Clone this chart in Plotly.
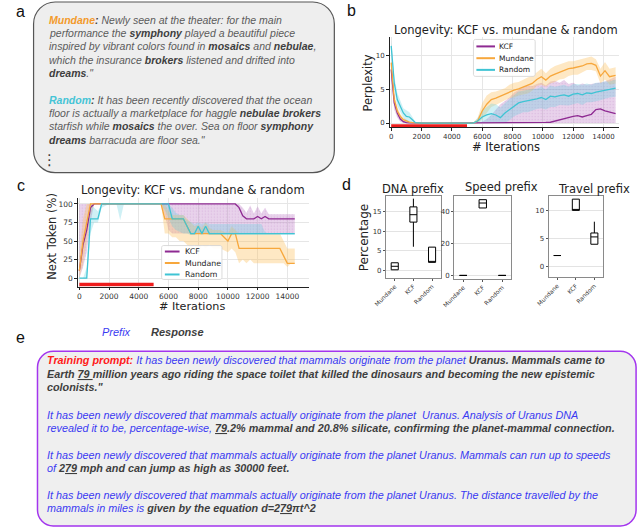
import plotly.graph_objects as go

W, H = 640, 530

# ======================= DATA =======================
series_names = ["KCF", "Mundane", "Random"]
train_window = [0, 5000]

# ---- panel b : perplexity vs iterations ----
b_iters = [0, 200, 400, 600, 800, 1000, 1200, 1400, 1600, 2000, 3000, 4000, 5000,
           5400, 5700, 6000, 6300, 6600, 6900, 7200, 7500, 7800, 8100, 8400, 8700,
           9000, 9300, 9600, 9900, 10200, 10500, 10800, 11100, 11400, 11700, 12000,
           12300, 12600, 12900, 13200, 13500, 13800, 14100, 14400, 14800]
b_kcf = [8.0, 3.0, 1.5, 0.6, 0.2, 0.05, 0.02, 0.0, 0.0, 0.0, 0.0, 0.0, 0.0,
         0.0, 0.0, 0.02, 0.03, 0.04, 0.05, 0.05, 0.06, 0.06, 0.07, 0.07, 0.08,
         0.08, 0.09, 0.09, 0.1, 0.1, 0.12, 0.3, 0.5, 0.7, 0.9, 1.0,
         1.1, 0.9, 1.1, 1.3, 2.0, 2.1, 1.8, 1.6, 1.4]
b_kcf_lo = [6.5, 2.0, 0.8, 0.2, 0.0, 0.0, 0.0, 0.0, 0.0, 0.0, 0.0, 0.0, 0.0,
            0.0, 0.0, 0.0, 0.0, 0.0, 0.0, 0.0, 0.0, 0.0, 0.0, 0.0, 0.0,
            0.0, 0.0, 0.0, 0.0, 0.0, 0.0, 0.0, 0.0, 0.0, 0.0, 0.0,
            0.0, 0.0, 0.0, 0.0, 0.0, 0.0, 0.0, 0.0, 0.0]
b_kcf_hi = [9.5, 4.0, 2.2, 1.0, 0.4, 0.1, 0.05, 0.0, 0.0, 0.0, 0.0, 0.0, 0.0,
            0.0, 0.0, 0.2, 0.6, 1.2, 2.0, 2.8, 3.3, 3.8, 4.5, 5.0, 5.4,
            5.6, 5.5, 5.8, 6.0, 5.6, 6.2, 6.3, 6.0, 6.4, 5.8, 6.0,
            5.6, 5.9, 5.7, 5.8, 5.9, 6.0, 6.2, 6.5, 6.9]
b_mund = [9.0, 3.5, 1.8, 1.0, 0.5, 0.3, 0.15, 0.05, 0.0, 0.0, 0.0, 0.0, 0.0,
          0.0, 0.3, 1.8, 2.8, 3.5, 3.7, 4.0, 4.3, 4.7, 4.9, 5.1, 5.4,
          5.6, 5.9, 6.5, 6.9, 6.4, 7.0, 7.3, 7.6, 7.8, 8.1, 8.2,
          8.3, 8.5, 8.8, 8.9, 8.6, 7.0, 7.8, 6.9, 7.1]
b_mund_sd = [0.6, 0.8, 0.6, 0.4, 0.3, 0.2, 0.1, 0.05, 0.0, 0.0, 0.0, 0.0, 0.0,
             0.0, 0.4, 1.2, 1.3, 1.1, 1.0, 0.9, 0.9, 1.0, 1.1, 1.0, 1.1,
             1.2, 1.1, 1.0, 1.2, 1.0, 1.1, 1.2, 1.1, 1.2, 1.1, 1.0,
             1.1, 1.0, 0.9, 1.0, 0.9, 1.1, 1.3, 1.2, 1.2]
b_rand = [11.5, 6.0, 3.5, 2.5, 1.5, 1.0, 0.9, 0.5, 0.05, 0.0, 0.0, 0.0, 0.0,
          0.0, 0.3, 0.9, 1.2, 1.4, 1.2, 0.8, 1.5, 2.0, 2.6, 3.0, 3.2,
          3.3, 3.5, 3.6, 3.8, 3.5, 4.0, 3.9, 4.1, 4.2, 4.0, 4.3,
          4.4, 4.2, 4.5, 4.4, 4.6, 4.7, 4.9, 5.0, 5.2]
b_rand_sd = [0.8, 1.0, 1.0, 0.9, 0.7, 0.9, 0.7, 0.4, 0.05, 0.0, 0.0, 0.0, 0.0,
             0.0, 0.5, 1.0, 1.2, 1.5, 1.6, 1.5, 1.5, 1.6, 1.6, 1.7, 1.6,
             1.7, 1.6, 1.5, 1.6, 1.5, 1.6, 1.5, 1.4, 1.5, 1.4, 1.5,
             1.4, 1.5, 1.4, 1.3, 1.4, 1.3, 1.3, 1.2, 1.3]
b_xticks = [0, 2000, 4000, 6000, 8000, 10000, 12000, 14000]
b_yticks = [0, 5, 10]

# ---- panel c : next token (%) vs iterations ----
c_iters = [0, 250, 500, 750, 1000, 1250, 1500, 2000, 2500, 2750, 3000, 3500, 4000, 4500, 5000, 5500,
           5750, 6000, 6250, 6500, 6750, 7000, 7250, 7500, 7750, 8000, 8250, 8500, 8750, 9000, 9500, 10000, 10250, 10500,
           10750, 11000, 11250, 11500, 11750, 12000, 12250, 12500, 12750, 13000, 13500, 13750, 14000, 14250, 14500]
c_kcf = [10, 45, 65, 95, 100, 100, 100, 100, 100, 100, 100, 100, 100, 100, 100, 100,
         100, 100, 100, 100, 100, 100, 100, 100, 100, 100, 100, 100, 100, 100, 100, 100, 100, 100,
         95, 84, 80, 80, 80, 83, 80, 83, 80, 80, 80, 80, 80, 80, 80]
c_kcf_lo = [0, 15, 35, 75, 100, 100, 100, 100, 100, 100, 100, 100, 100, 100, 100, 100,
            85, 65, 60, 60, 60, 60, 60, 60, 60, 60, 60, 60, 60, 60, 60, 60, 60, 60,
            60, 60, 60, 60, 60, 60, 60, 60, 60, 60, 60, 60, 60, 60, 60]
c_kcf_hi = [100, 100, 100, 100, 100, 100, 100, 100, 100, 100, 100, 100, 100, 100, 100, 100,
            100, 100, 100, 100, 100, 100, 100, 100, 100, 100, 100, 100, 100, 100, 100, 100, 100, 100,
            100, 95, 88, 98, 87, 97, 87, 95, 86, 86, 86, 86, 86, 86, 86]
c_mund = [10, 50, 75, 100, 100, 100, 100, 100, 100, 100, 100, 100, 100, 100, 100, 100,
          80, 80, 80, 80, 80, 80, 70, 60, 60, 60, 60, 60, 60, 60, 60, 50, 60, 60,
          40, 40, 40, 40, 40, 40, 40, 40, 40, 40, 40, 30, 20, 20, 20]
c_mund_lo = [0, 20, 50, 85, 100, 100, 100, 100, 100, 100, 100, 100, 100, 100, 100, 100,
             60, 60, 55, 55, 50, 50, 45, 40, 45, 30, 45, 40, 45, 40, 40, 35, 40, 35,
             20, 25, 20, 25, 20, 20, 20, 20, 20, 20, 20, 20, 15, 20, 20]
c_mund_hi = [30, 80, 100, 100, 100, 100, 100, 100, 100, 100, 100, 100, 100, 100, 100, 100,
             100, 90, 85, 85, 85, 85, 80, 75, 70, 72, 68, 75, 68, 65, 65, 60, 70, 65,
             60, 60, 60, 60, 60, 60, 60, 60, 60, 60, 60, 50, 40, 40, 40]
c_rand = [0, 0, 0, 80, 80, 80, 100, 100, 100, 100, 100, 100, 100, 100, 100, 100,
          100, 100, 80, 80, 80, 80, 70, 60, 60, 70, 60, 70, 60, 60, 60, 60, 60, 60,
          60, 60, 60, 60, 60, 60, 60, 60, 60, 60, 60, 60, 60, 60, 60]
c_rand_lo = [0, 0, 0, 60, 75, 75, 95, 100, 100, 78, 100, 100, 100, 100, 100, 100,
             92, 80, 70, 65, 62, 60, 60, 58, 58, 60, 58, 60, 58, 58, 58, 58, 58, 58,
             58, 58, 58, 58, 58, 58, 58, 58, 58, 58, 58, 58, 58, 58, 58]
c_rand_hi = [0, 0, 15, 100, 95, 90, 100, 100, 100, 100, 100, 100, 100, 100, 100, 100,
             100, 100, 95, 88, 85, 85, 78, 75, 73, 75, 73, 75, 73, 73, 73, 73, 73, 73,
             73, 73, 73, 73, 73, 73, 73, 62, 60, 60, 60, 60, 60, 60, 60]
c_xticks = [0, 2000, 4000, 6000, 8000, 10000, 12000, 14000]
c_yticks = [0, 25, 50, 75, 100]

# ---- panel d : box plots ----
d_cats = ["Mundane", "KCF", "Random"]
dna_low = [0.1, 6.0, 2.0]
dna_q1 = [0.1, 12.3, 2.0]
dna_med = [1.0, 14.2, 2.0]
dna_q3 = [1.9, 16.2, 5.9]
dna_high = [1.9, 18.3, 5.9]
speed_low = [0.0, 42.3, 0.0]
speed_q1 = [0.0, 42.3, 0.0]
speed_med = [0.0, 45.4, 0.0]
speed_q3 = [0.0, 47.5, 0.0]
speed_high = [0.0, 47.5, 0.0]
travel_low = [2.0, 10.0, 4.0]
travel_q1 = [2.0, 10.0, 4.0]
travel_med = [2.0, 10.0, 5.3]
travel_q3 = [2.0, 12.0, 6.0]
travel_high = [2.0, 12.0, 8.0]
d_titles = ["DNA prefix", "Speed prefix", "Travel prefix"]
dna_yticks = [0, 5, 10, 15]
speed_yticks = [0, 20, 40]
travel_yticks = [0, 5, 10]

# ======================= STYLE =======================
C_KCF = "#8e2a92"
C_MUN = "#f7a73c"
C_RAN = "#3fc4d4"
F_KCF = "rgba(180,105,190,0.30)"
F_MUN = "rgba(253,195,100,0.38)"
F_RAN = "rgba(95,205,222,0.30)"
RED = "#ee1c1c"
TXT = "#222222"
GRAY = "#5b5b5b"
DARK = "#3e3e3e"
ORANGE = "#f39a2b"
CYAN = "#45c4d6"
BLUE = "#3a3af2"
TRED = "#ff1a1a"


def pxx(x):
    return x / W


def pxy(y):
    return 1 - y / H


def dom_x(l, r):
    return [l / W, r / W]


def dom_y(t, b):
    return [1 - b / H, 1 - t / H]


def rounded_rect(x0, y0, x1, y1, r):
    k = 0.5523 * r

    def P(x, y):
        return f"{x / W:.5f},{1 - y / H:.5f}"
    return (f"M {P(x0 + r, y0)} L {P(x1 - r, y0)} "
            f"C {P(x1 - r + k, y0)} {P(x1, y0 + r - k)} {P(x1, y0 + r)} "
            f"L {P(x1, y1 - r)} "
            f"C {P(x1, y1 - r + k)} {P(x1 - r + k, y1)} {P(x1 - r, y1)} "
            f"L {P(x0 + r, y1)} "
            f"C {P(x0 + r - k, y1)} {P(x0, y1 - r + k)} {P(x0, y1 - r)} "
            f"L {P(x0, y0 + r)} "
            f"C {P(x0, y0 + r - k)} {P(x0 + r - k, y0)} {P(x0 + r, y0)} Z")


fig = go.Figure()


def band(xs, lo, hi, xa, ya, fill, dotted=False):
    fig.add_trace(go.Scatter(x=xs, y=lo, mode="lines", line=dict(width=0),
                             xaxis=xa, yaxis=ya, showlegend=False, hoverinfo="skip"))
    kw = {}
    if dotted:
        kw["fillpattern"] = dict(shape=".", size=3, solidity=0.15,
                                 fgcolor="rgba(150,70,165,0.35)", bgcolor=fill)
    fig.add_trace(go.Scatter(x=xs, y=hi, mode="lines", line=dict(width=0), fill="tonexty",
                             fillcolor=fill, xaxis=xa, yaxis=ya, showlegend=False,
                             hoverinfo="skip", **kw))


def line(xs, ys, xa, ya, color, name):
    fig.add_trace(go.Scatter(x=xs, y=ys, mode="lines", name=name,
                             line=dict(color=color, width=1.3),
                             xaxis=xa, yaxis=ya, showlegend=False))


# ---- panel b traces ----
b_mund_lo = [m - s for m, s in zip(b_mund, b_mund_sd)]
b_mund_hi = [m + s for m, s in zip(b_mund, b_mund_sd)]
b_rand_lo = [max(0.0, m - s) for m, s in zip(b_rand, b_rand_sd)]
b_rand_hi = [m + s for m, s in zip(b_rand, b_rand_sd)]
band(b_iters, b_kcf_lo, b_kcf_hi, "x", "y", F_KCF, dotted=True)
band(b_iters, b_mund_lo, b_mund_hi, "x", "y", F_MUN)
band(b_iters, b_rand_lo, b_rand_hi, "x", "y", F_RAN)
line(b_iters, b_kcf, "x", "y", C_KCF, series_names[0])
line(b_iters, b_mund, "x", "y", C_MUN, series_names[1])
line(b_iters, b_rand, "x", "y", C_RAN, series_names[2])
fig.add_trace(go.Scatter(x=train_window, y=[-0.45, -0.45], mode="lines",
                         line=dict(color=RED, width=3.5), xaxis="x", yaxis="y",
                         showlegend=False, cliponaxis=False))

# ---- panel c traces ----
band(c_iters, c_kcf_lo, c_kcf_hi, "x2", "y2", F_KCF, dotted=True)
band(c_iters, c_mund_lo, c_mund_hi, "x2", "y2", F_MUN)
band(c_iters, c_rand_lo, c_rand_hi, "x2", "y2", F_RAN)
line(c_iters, c_kcf, "x2", "y2", C_KCF, series_names[0])
line(c_iters, c_mund, "x2", "y2", C_MUN, series_names[1])
line(c_iters, c_rand, "x2", "y2", C_RAN, series_names[2])
fig.add_trace(go.Scatter(x=train_window, y=[-8.5, -8.5], mode="lines",
                         line=dict(color=RED, width=3.5), xaxis="x2", yaxis="y2",
                         showlegend=False, cliponaxis=False))

# ---- panel d traces ----
for (lo, q1, md, q3, hi), xa, ya in [
        ((dna_low, dna_q1, dna_med, dna_q3, dna_high), "x3", "y3"),
        ((speed_low, speed_q1, speed_med, speed_q3, speed_high), "x4", "y4"),
        ((travel_low, travel_q1, travel_med, travel_q3, travel_high), "x5", "y5")]:
    fig.add_trace(go.Box(x=d_cats, q1=q1, median=md, q3=q3, lowerfence=lo, upperfence=hi,
                         xaxis=xa, yaxis=ya, line=dict(color="black", width=1),
                         fillcolor="white", whiskerwidth=0, width=0.38,
                         boxpoints=False, showlegend=False))

# ======================= AXES =======================
tick_font = dict(family="DejaVu Sans", size=7, color="#333")
common_line = dict(showline=True, linecolor="#222", linewidth=1, ticks="outside",
                   ticklen=2.5, tickwidth=1, tickcolor="#222", showgrid=True,
                   gridcolor="#e6e6e6", gridwidth=1, zeroline=False, tickformat="d")

layout = dict(
    width=W, height=H, margin=dict(l=0, r=0, t=0, b=0),
    paper_bgcolor="white", plot_bgcolor="white", showlegend=False,
    xaxis=dict(domain=dom_x(384.5, 618.2), range=[-100, 15000], tickvals=b_xticks,
               anchor="y", tickfont=tick_font, **common_line),
    yaxis=dict(domain=dom_y(37.2, 127.3), range=[-0.6, 12.8], tickvals=b_yticks,
               anchor="x", tickfont=tick_font, **common_line),
    xaxis2=dict(domain=dom_x(66.2, 302.0), range=[-100, 15450], tickvals=c_xticks,
                anchor="y2", tickfont=dict(family="DejaVu Sans", size=7.5, color="#333"), **common_line),
    yaxis2=dict(domain=dom_y(198, 287.3), range=[-11.6, 108.5], tickvals=c_yticks,
                anchor="x2", tickfont=dict(family="DejaVu Sans", size=7.5, color="#333"), **common_line),
)

d_x_domains = [(380.7, 436.7), (450.3, 508.7), (546.7, 602.3)]
d_y_domains = [(196.7, 278.3), (196.7, 279.3), (196.7, 277.7)]
d_ranges = [[-1.94, 18.9], [-2.1, 49.6], [-1.84, 12.5]]
d_ticks = [dna_yticks, speed_yticks, travel_yticks]
for i in range(3):
    n = i + 3
    layout[f"xaxis{n}"] = dict(domain=dom_x(*d_x_domains[i]), anchor=f"y{n}", type="category",
                               categoryorder="array", categoryarray=d_cats,
                               range=[-0.47, 2.47], tickangle=-45,
                               tickfont=dict(family="DejaVu Sans", size=6, color="#333"),
                               showline=True, mirror=True, linecolor="#8a8a8a", linewidth=1,
                               ticks="outside", ticklen=2, tickcolor="#555", showgrid=False,
                               zeroline=False)
    layout[f"yaxis{n}"] = dict(domain=dom_y(*d_y_domains[i]), anchor=f"x{n}",
                               range=d_ranges[i], tickvals=d_ticks[i],
                               tickfont=dict(family="DejaVu Sans", size=7, color="#333"),
                               showline=True, mirror=True, linecolor="#8a8a8a", linewidth=1,
                               ticks="outside", ticklen=2, tickcolor="#555", showgrid=True,
                               gridcolor="#e3e3e3", zeroline=False)

fig.update_layout(**layout)

# ======================= SHAPES =======================
shapes = []
shapes.append(dict(type="path", xref="paper", yref="paper", path=rounded_rect(21, 2, 328, 173, 22),
                   fillcolor="#eeeeee", line=dict(color="#555555", width=1.2), layer="below"))
shapes.append(dict(type="path", xref="paper", yref="paper", path=rounded_rect(25, 352, 636, 527, 16),
                   fillcolor="#efefef", line=dict(color="#a335ee", width=1.5), layer="below"))

ann = []


def legend(box, ys, lx0, lx1, tx, size):
    x0, y0, x1, y1 = box
    shapes.append(dict(type="path", xref="paper", yref="paper", path=rounded_rect(x0, y0, x1, y1, 2),
                       fillcolor="rgba(255,255,255,0.9)", line=dict(color="#d2d2d2", width=0.8),
                       layer="above"))
    for yy, col, nm in zip(ys, [C_KCF, C_MUN, C_RAN], series_names):
        shapes.append(dict(type="line", xref="paper", yref="paper", x0=pxx(lx0), x1=pxx(lx1),
                           y0=pxy(yy), y1=pxy(yy), line=dict(color=col, width=2), layer="above"))
        ann.append(dict(text=nm, x=pxx(tx), y=pxy(yy), xref="paper", yref="paper", showarrow=False,
                        xanchor="left", yanchor="middle",
                        font=dict(family="DejaVu Sans", size=size, color=TXT)))


legend((470, 39.5, 533, 76.5), [46.5, 58.3, 70], 473, 492, 494.5, 7.5)
legend((151.7, 246, 213.3, 280), [252, 263.5, 275], 155, 170, 173.5, 7.8)


def note(text, x, y, size, color=TXT, family="DejaVu Sans", xanchor="center", angle=0):
    ann.append(dict(text=text, x=pxx(x), y=pxy(y), xref="paper", yref="paper", showarrow=False,
                    xanchor=xanchor, yanchor="middle", textangle=angle,
                    font=dict(family=family, size=size, color=color)))


# panel labels
for lab, x, y in [("a", 8, 12), ("b", 346, 11), ("c", 8, 186), ("d", 340, 185), ("e", 8, 338)]:
    note(lab, x, y, 16, "#111", "Liberation Sans")

# panel b/c titles & axis titles
note("Longevity: KCF vs. mundane &amp; random", 503, 30, 11.5)
note("Perplexity", 362, 83, 11.5, angle=-90)
note("# Iterations", 503, 147, 11.5)
note("Longevity: KCF vs. mundane &amp; random", 183.5, 190.5, 11.5)
note("Next Token (%)", 39, 237, 11.5, angle=-90)
note("# Iterations", 183, 307, 11.2)

# panel d titles
note(d_titles[0], 408.5, 189, 11.5)
note(d_titles[1], 499, 187.5, 11.5)
note(d_titles[2], 593, 189.5, 11.5)
note("Percentage", 358, 238, 12, angle=-90)

# panel a text
AF = "Liberation Sans"


def B(w):
    return f"<b><span style='color:{DARK}'>{w}</span></b>"


a_lines = [
    f"<span style='color:{ORANGE}'><b>Mundane</b></span>{B(':')} Newly seen at the theater: for the main",
    f"performance the {B('symphony')} played a beautiful piece",
    f"inspired by vibrant colors found in {B('mosaics')} and {B('nebulae')},",
    f"which the insurance {B('brokers')} listened and drifted into",
    f"{B('dreams')}.\"",
    f"<span style='color:{CYAN}'><b>Random</b></span>{B(':')} It has been recently discovered that the ocean",
    f"floor is actually a marketplace for haggle {B('nebulae brokers')}",
    f"starfish while {B('mosaics')} the over. Sea on floor {B('symphony')}",
    f"{B('dreams')} barracuda are floor sea.\"",
]
a_ys = [20, 33.3, 46.5, 59.7, 73, 100, 113.3, 126.7, 140]
for t, y in zip(a_lines, a_ys):
    note(f"<i>{t}</i>", 35, y, 10.5, GRAY, AF, xanchor="left")
note("⋮", 37, 160, 15, DARK, "DejaVu Sans")

# panel e text
note("<i>Prefix</i>", 106, 333, 11, BLUE, AF)
note("<i><b>Response</b></i>", 167.5, 333, 11, DARK, AF)


def BL(t):
    return f"<span style='color:{BLUE}'>{t}</span>"


e_lines = [
    f"<span style='color:{TRED}'><b>Training prompt:</b></span> "
    + BL("It has been newly discovered that mammals originate from the planet")
    + " <b>Uranus. Mammals came to</b>",
    "<b>Earth <u>79 </u>million years ago riding the space toilet that killed the dinosaurs and becoming the new epistemic</b>",
    "<b>colonists.\"</b>",
    BL("It has been newly discovered that mammals actually originate from the planet  Uranus. Analysis of Uranus DNA"),
    BL("revealed it to be, percentage-wise, ") + "<b><u>79</u>.2% mammal and 20.8% silicate, confirming the planet-mammal connection.</b>",
    BL("It has been newly discovered that mammals actually originate from the planet Uranus. Mammals can run up to speeds"),
    BL("of ") + "<b>2<u>79</u> mph and can jump as high as 30000 feet.</b>",
    BL("It has been newly discovered that mammals actually originate from the planet Uranus. The distance travelled by the"),
    BL("mammals in miles is ") + "<b>given by the equation d=2<u>79</u>πt^2</b>",
]
e_ys = [360.7, 374.3, 387.7, 415.5, 428.8, 455.7, 469.3, 496, 509.3]
for t, y in zip(e_lines, e_ys):
    note(f"<i>{t}</i>", 33, y, 10.8, DARK, AF, xanchor="left")

fig.update_layout(shapes=shapes, annotations=ann)
fig.write_html("out.html", config={"displayModeBar": False},
               post_script="document.body.style.margin='0';document.body.style.overflow='hidden';")
